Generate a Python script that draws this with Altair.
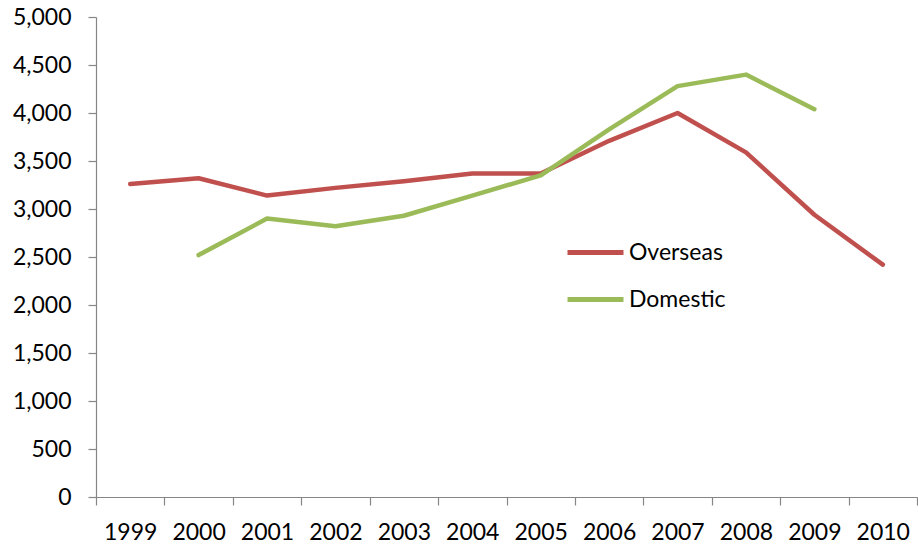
import altair as alt
import pandas as pd

years = ["1999", "2000", "2001", "2002", "2003", "2004", "2005",
         "2006", "2007", "2008", "2009", "2010"]
overseas = [3260, 3320, 3140, 3220, 3290, 3370, 3370, 3710, 4000, 3590, 2940, 2420]
domestic = [None, 2520, 2900, 2820, 2930, 3140, 3350, 3830, 4280, 4400, 4040, None]
series_names = ["Overseas", "Domestic"]
series_colors = ["#C0504D", "#9BBB59"]
y_ticks = list(range(0, 5001, 500))

rows = []
for name, values in zip(series_names, [overseas, domestic]):
    for yr, v in zip(years, values):
        if v is not None:
            rows.append({"Year": yr, "Value": v, "Series": name})
df = pd.DataFrame(rows)

FONT = "Lato"
FS = 23
AXIS_GREY = "#868686"

chart = alt.Chart(df).mark_line(strokeWidth=4.5, strokeCap="round", strokeJoin="round").encode(
    x=alt.X("Year:O", sort=years,
            scale=alt.Scale(domain=years, paddingInner=0, paddingOuter=0),
            axis=alt.Axis(title=None, labelAngle=0, tickBand="extent", tickSize=8,
                          labelPadding=16, labelFontSize=FS, labelFont=FONT,
                          labelColor="#000000", domainColor=AXIS_GREY, tickColor=AXIS_GREY,
                          domainWidth=1.2, tickWidth=1.2)),
    y=alt.Y("Value:Q",
            scale=alt.Scale(domain=[0, 5000], nice=False),
            axis=alt.Axis(title=None, values=y_ticks, format=",.0f", grid=False, tickSize=8,
                          labelPadding=17, labelFontSize=FS, labelFont=FONT,
                          labelColor="#000000", domainColor=AXIS_GREY, tickColor=AXIS_GREY,
                          domainWidth=1.2, tickWidth=1.2)),
    color=alt.Color("Series:N", sort=series_names,
                    scale=alt.Scale(domain=series_names, range=series_colors),
                    legend=alt.Legend(title=None, orient="none", legendX=469, legendY=205,
                                      symbolType="stroke", symbolSize=3136,
                                      symbolStrokeWidth=5, labelFont=FONT, labelFontSize=FS,
                                      labelColor="#000000", labelOffset=3, rowPadding=4,
                                      padding=0)),
).properties(
    width=821,
    height=480,
).configure(
    autosize=alt.AutoSizeParams(type="none"),
    padding={"left": 96, "top": 17, "right": 1, "bottom": 47},
    background="white",
    view=alt.ViewConfig(stroke="transparent"),
)

chart.save("out.html", embed_options={"renderer": "svg", "actions": False})
